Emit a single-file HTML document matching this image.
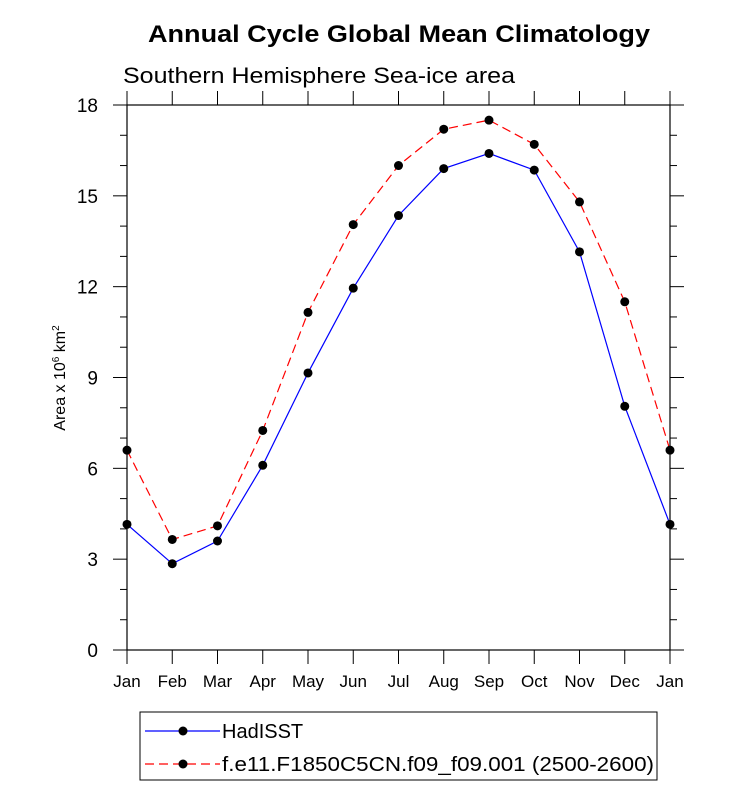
<!DOCTYPE html>
<html><head><meta charset="utf-8"><style>
body{margin:0;background:#fff;}
svg{display:block;font-family:"Liberation Sans",Arial,sans-serif;}
</style></head><body>
<svg id="chart" width="733" height="790">
<text x="399" y="42" text-anchor="middle" font-size="24" font-weight="bold" textLength="502" lengthAdjust="spacingAndGlyphs">Annual Cycle Global Mean Climatology</text>
<text x="123" y="83" font-size="22" textLength="392" lengthAdjust="spacingAndGlyphs">Southern Hemisphere Sea-ice area</text>
<text transform="translate(65,378) rotate(-90)" text-anchor="middle" font-size="16">Area x 10<tspan dy="-6" font-size="10">6</tspan><tspan dy="6"> km</tspan><tspan dy="-6" font-size="10">2</tspan></text>
<g id="axes"></g>
<g id="series"></g>
<g>
<rect x="140" y="712" width="517" height="68" fill="none" stroke="#000" stroke-width="1"/>
<g>
<line x1="145" y1="731" x2="220" y2="731" stroke="#0000ff" stroke-width="1.2"/>
<circle cx="183" cy="731" r="4.5" fill="#000"/>
<text x="222" y="738" font-size="20">HadISST</text></g>
<g>
<line x1="145" y1="764" x2="220" y2="764" stroke="#ff0000" stroke-width="1.2" stroke-dasharray="9,5"/>
<circle cx="183" cy="764" r="4.5" fill="#000"/>
<text x="222" y="771" font-size="20" textLength="432" lengthAdjust="spacingAndGlyphs">f.e11.F1850C5CN.f09_f09.001 (2500-2600)</text></g>
</g>
</svg>
<script>
const months=["Jan","Feb","Mar","Apr","May","Jun","Jul","Aug","Sep","Oct","Nov","Dec","Jan"];
const hadisst=[4.15,2.85,3.6,6.1,9.15,11.95,14.35,15.9,16.4,15.85,13.15,8.05,4.15];
const model=[6.6,3.65,4.1,7.25,11.15,14.05,16.0,17.2,17.5,16.7,14.8,11.5,6.6];
const yTicks=[0,3,6,9,12,15,18];
const X0=127,X1=670,Y0=650,Y1=105,YMAX=18;
const ns="http://www.w3.org/2000/svg";
function xs(i){return X0+(X1-X0)*i/(months.length-1);}
function ys(v){return Y0-(Y0-Y1)*v/YMAX;}
function mk(t,a,p){const e=document.createElementNS(ns,t);for(const k in a)e.setAttribute(k,a[k]);p.appendChild(e);return e;}
const ax=document.getElementById('axes');
const frame=mk('rect',{x:X0,y:Y1,width:X1-X0,height:Y0-Y1,fill:'none',stroke:'#000','stroke-width':1.2},ax);


for(let v=0;v<=YMAX;v++){const maj=v%3===0;const L=maj?14:7;
mk('line',{x1:X0-L,y1:ys(v),x2:X0,y2:ys(v),stroke:'#000','stroke-width':1},ax);
mk('line',{x1:X1,y1:ys(v),x2:X1+L,y2:ys(v),stroke:'#000','stroke-width':1},ax);}
yTicks.forEach(v=>{const t=mk('text',{x:X0-29,y:ys(v)+7,'text-anchor':'end','font-size':19},ax);t.textContent=v;

});
months.forEach((m,i)=>{const x=xs(i);
mk('line',{x1:x,y1:Y0,x2:x,y2:Y0+14,stroke:'#000','stroke-width':1},ax);
mk('line',{x1:x,y1:Y1-14,x2:x,y2:Y1,stroke:'#000','stroke-width':1},ax);
const t=mk('text',{x:x,y:Y0+37,'text-anchor':'middle','font-size':17},ax);t.textContent=m;

});
const sg=document.getElementById('series');
function draw(vals,color,dash,name){
const pts=vals.map((v,i)=>xs(i)+','+ys(v)).join(' ');
const pl=mk('polyline',{points:pts,fill:'none',stroke:color,'stroke-width':1.2,'stroke-dasharray':dash},sg);


vals.forEach((v,i)=>{const c=mk('circle',{cx:xs(i),cy:ys(v),r:4.5,fill:'#000'},sg);

});}
draw(model,'#ff0000','9,5','model');
draw(hadisst,'#0000ff','none','hadisst');
</script>
</body></html>
